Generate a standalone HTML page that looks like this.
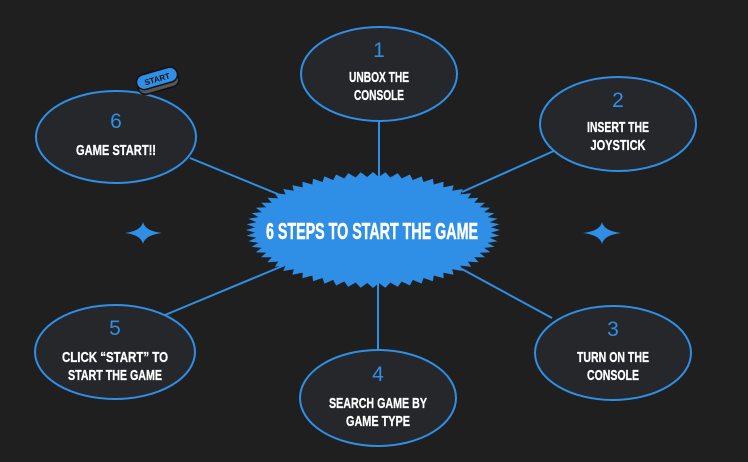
<!DOCTYPE html>
<html><head><meta charset="utf-8"><style>
html,body{margin:0;padding:0;background:#1f1f1f;}
svg{display:block}
text{font-family:"Liberation Sans Narrow","Liberation Sans",sans-serif;font-weight:bold;fill:#fff;text-anchor:middle}
.n{fill:#2f8fe6;font-weight:normal;font-family:"Liberation Sans",sans-serif;font-size:21px}
.t{font-size:15px;stroke:#fff;stroke-width:0.3}
</style></head><body>
<svg width="748" height="462" viewBox="0 0 748 462" xmlns="http://www.w3.org/2000/svg">
<rect width="748" height="462" fill="#1f1f1f"/>
<g stroke="#2f8fe6" stroke-width="2">
<line x1="379" y1="120" x2="379" y2="180"/>
<line x1="190" y1="158" x2="285" y2="197"/>
<line x1="556" y1="150" x2="462" y2="192"/>
<line x1="165" y1="315" x2="285" y2="265"/>
<line x1="552" y1="318" x2="460" y2="268"/>
<line x1="378" y1="350" x2="378" y2="282"/>
</g>
<g fill="#25272b" stroke="#2f8fe6" stroke-width="2">
<ellipse cx="379" cy="74" rx="78" ry="47"/>
<ellipse cx="116" cy="137" rx="80" ry="46"/>
<ellipse cx="618" cy="124" rx="78" ry="47"/>
<ellipse cx="115" cy="352" rx="80" ry="47"/>
<ellipse cx="613" cy="353" rx="78" ry="47"/>
<ellipse cx="378" cy="398" rx="78" ry="48"/>
</g>
<polygon id="star" fill="#2f8fe6"/>
<text x="372" y="239" font-size="23" stroke="#fff" stroke-width="0.5" textLength="212" lengthAdjust="spacingAndGlyphs">6 STEPS TO START THE GAME</text>
<text class="n" x="379" y="57">1</text>
<text class="t" x="379" y="82" textLength="60" lengthAdjust="spacingAndGlyphs">UNBOX THE</text>
<text class="t" x="379" y="100" textLength="50" lengthAdjust="spacingAndGlyphs">CONSOLE</text>
<text class="n" x="116" y="128">6</text>
<text class="t" x="116" y="155" textLength="80" lengthAdjust="spacingAndGlyphs">GAME START!!</text>
<text class="n" x="618" y="107">2</text>
<text class="t" x="618" y="132" textLength="62" lengthAdjust="spacingAndGlyphs">INSERT THE</text>
<text class="t" x="618" y="150" textLength="55" lengthAdjust="spacingAndGlyphs">JOYSTICK</text>
<text class="n" x="115" y="335">5</text>
<text class="t" x="115" y="362" textLength="106" lengthAdjust="spacingAndGlyphs">CLICK “START” TO</text>
<text class="t" x="115" y="380" textLength="94" lengthAdjust="spacingAndGlyphs">START THE GAME</text>
<text class="n" x="613" y="336">3</text>
<text class="t" x="613" y="362" textLength="72" lengthAdjust="spacingAndGlyphs">TURN ON THE</text>
<text class="t" x="613" y="380" textLength="52" lengthAdjust="spacingAndGlyphs">CONSOLE</text>
<text class="n" x="378" y="381">4</text>
<text class="t" x="378" y="408" textLength="98" lengthAdjust="spacingAndGlyphs">SEARCH GAME BY</text>
<text class="t" x="378" y="426" textLength="64" lengthAdjust="spacingAndGlyphs">GAME TYPE</text>
<path d="M143 222 Q145 231 162 233 Q145 235 143 244 Q141 235 125 233 Q141 231 143 222Z" fill="#2f8fe6"/>
<path d="M602 222 Q604 231 621 233 Q604 235 602 244 Q600 235 583 233 Q600 231 602 222Z" fill="#2f8fe6"/>
<g transform="rotate(-16 157 82)">
<rect x="137" y="76" width="42" height="15" rx="7.5" fill="#555" stroke="#111" stroke-width="1.5"/>
<rect x="137" y="71" width="42" height="15" rx="7.5" fill="#2f8fe6" stroke="#111" stroke-width="1.5"/>
<text x="158" y="82" font-size="8" style="fill:#111">START</text>
</g>
</svg>
<script>
var p=[],n=64,cx=373,cy=230,rx=127,ry=58,d=9;
for(var i=0;i<n*2;i++){var a=Math.PI*i/n,r=i%2?1:0;var x=cx+(rx-(r?d:0))*Math.cos(a),y=cy+(ry-(r?d*0.55:0))*Math.sin(a);p.push(x.toFixed(1)+","+y.toFixed(1));}
document.getElementById("star").setAttribute("points",p.join(" "));
</script>
</body></html>
